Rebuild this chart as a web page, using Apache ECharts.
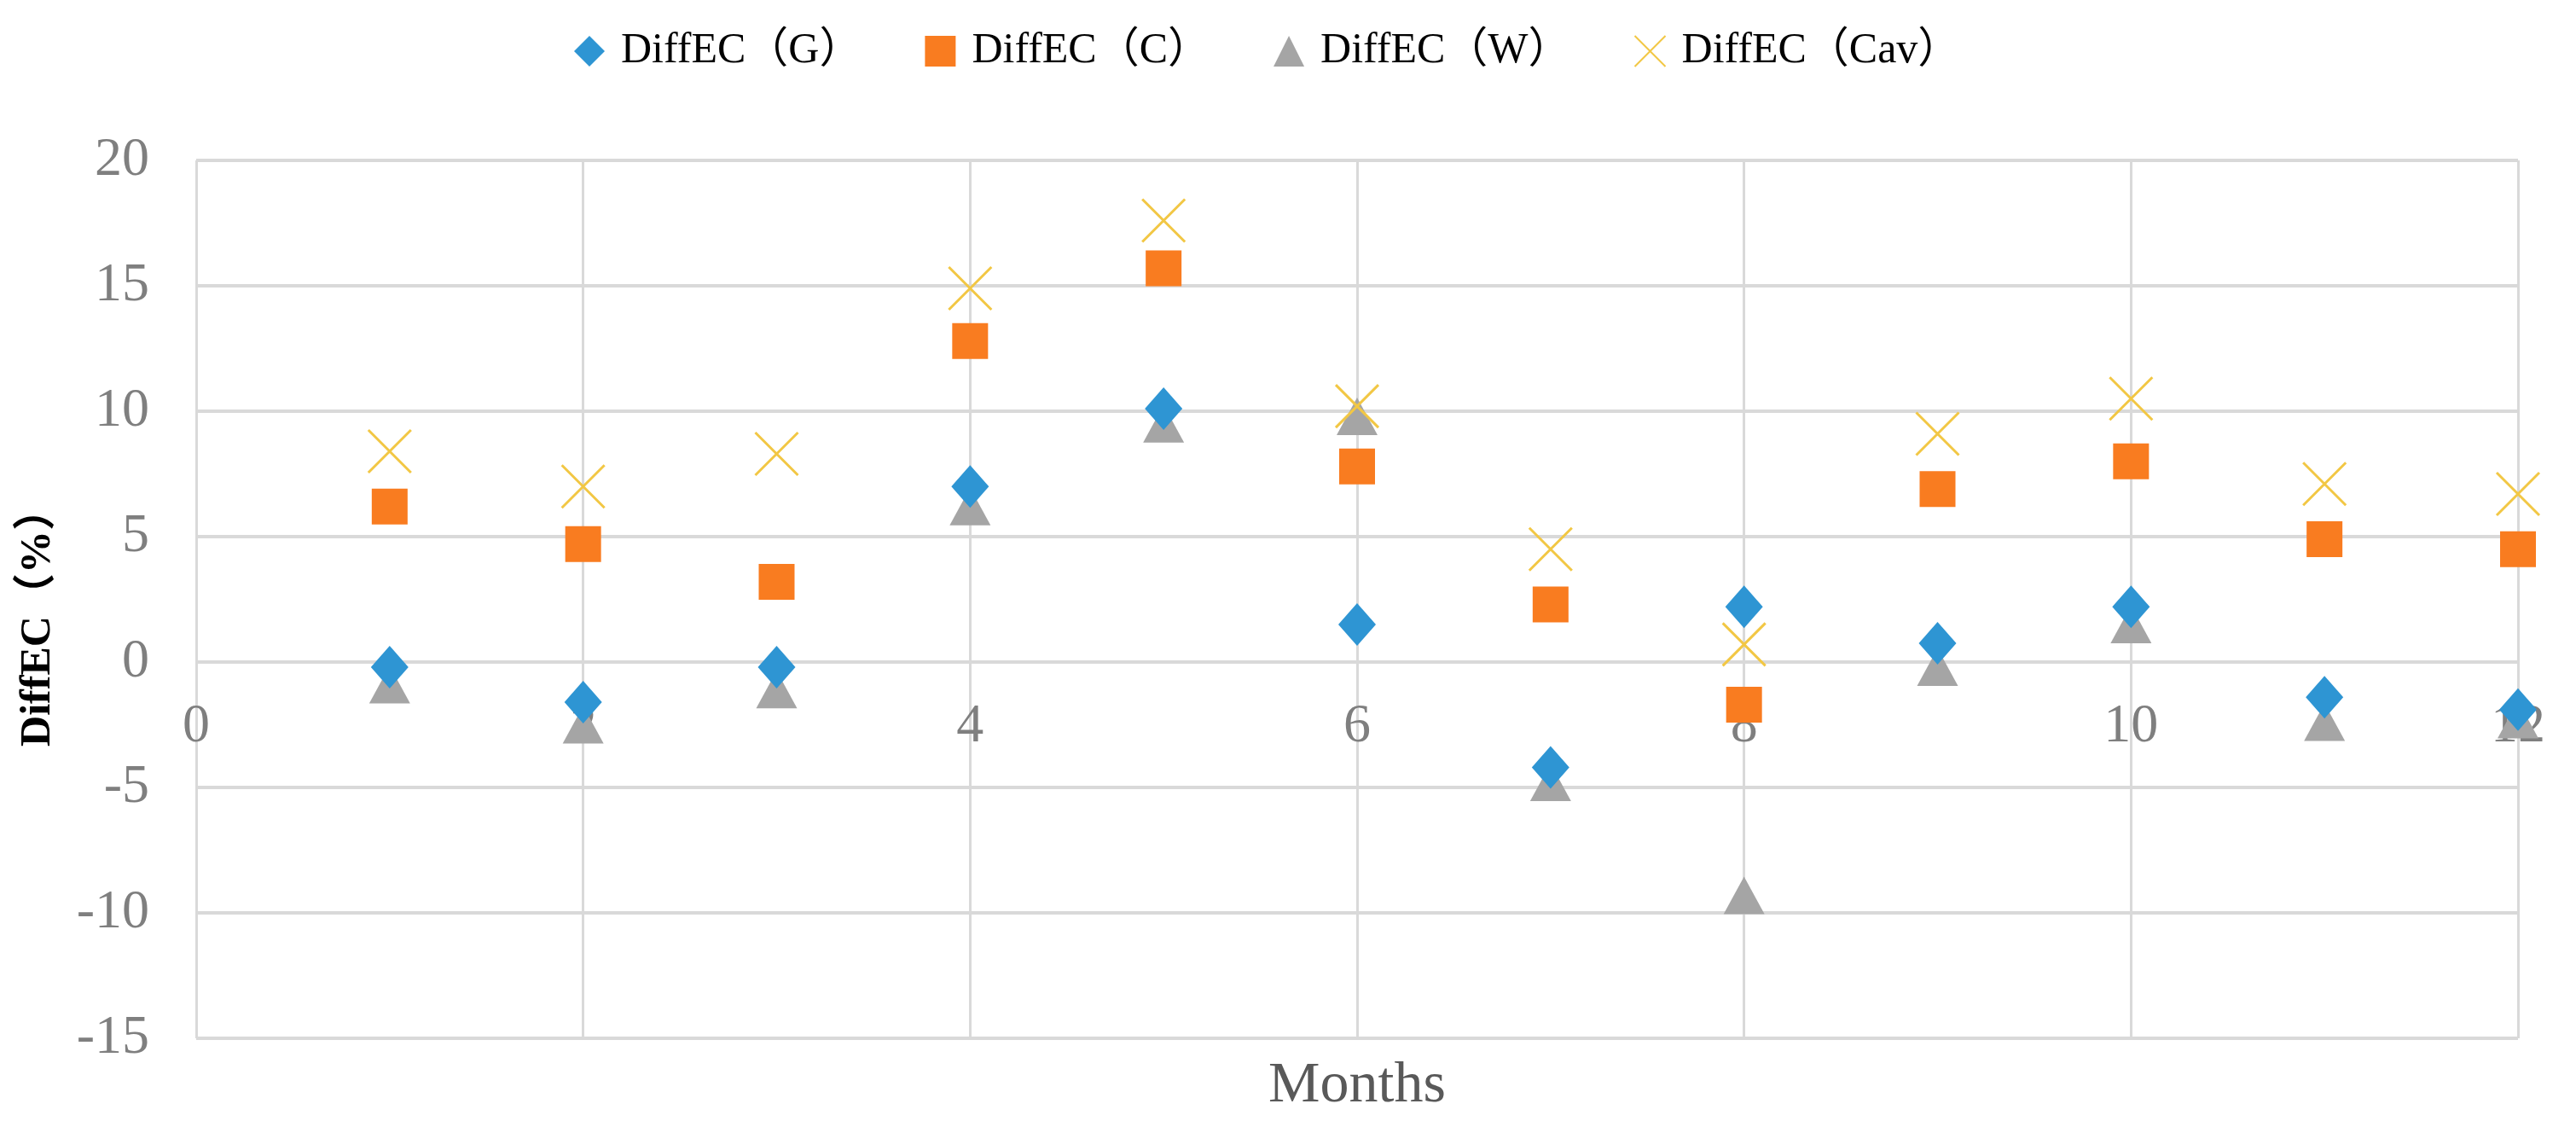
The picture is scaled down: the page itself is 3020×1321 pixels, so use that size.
<!DOCTYPE html>
<html>
<head>
<meta charset="utf-8">
<script src="https://cdn.jsdelivr.net/npm/echarts@6/dist/echarts.min.js"></script>
<style>
  html, body { margin: 0; padding: 0; background: #fff; }
  #chart { width: 3020px; height: 1321px; }
</style>
</head>
<body>
<div id="chart"></div>
<script>
// months on the x axis
var months = [1, 2, 3, 4, 5, 6, 7, 8, 9, 10, 11, 12];
var seriesNames = ['DiffEC（G）', 'DiffEC（C）', 'DiffEC（W）', 'DiffEC（Cav）'];
var diffG   = [-0.2, -1.6, -0.2, 7.0, 10.1, 1.5, -4.2, 2.2, 0.75, 2.2, -1.4, -1.9];
var diffC   = [6.2, 4.7, 3.2, 12.8, 15.7, 7.8, 2.3, -1.7, 6.9, 8.0, 4.9, 4.5];
var diffW   = [-0.9, -2.5, -1.1, 6.2, 9.5, 9.8, -4.8, -9.3, -0.2, 1.5, -2.4, -2.3];
var diffCav = [8.4, 7.0, 8.3, 14.9, 17.6, 10.2, 4.5, 0.7, 9.1, 10.5, 7.1, 6.7];

var serif = '"Liberation Serif", "Times New Roman", "Noto Sans CJK SC", serif';

function pairs(vals) {
  var out = [];
  for (var i = 0; i < months.length; i++) {
    out.push([months[i], vals[i]]);
  }
  return out;
}

var chart = echarts.init(document.getElementById('chart'), null, { renderer: 'canvas' });

// x axis sits on the zero line of y (-15..20), i.e. 15/35 of the plot height above the bottom
var gridTop = 188, gridBottom = 104;
var plotH = 1321 - gridTop - gridBottom;
var zeroLift = plotH * 15 / 35;

var option = {
  backgroundColor: '#ffffff',
  animation: false,
  legend: {
    data: seriesNames,
    left: 668,
    top: 30,
    itemWidth: 36,
    itemHeight: 36,
    itemGap: 74,
    textStyle: {
      fontFamily: serif,
      fontSize: 50,
      color: '#000',
      padding: [0, 0, 0, 14]
    }
  },
  grid: {
    left: 230,
    right: 68,
    top: gridTop,
    bottom: gridBottom,
    containLabel: false,
    outerBoundsMode: 'none'
  },
  xAxis: {
    type: 'value',
    min: 0,
    max: 12,
    interval: 2,
    offset: -zeroLift,
    name: 'Months',
    nameLocation: 'middle',
    nameGap: 463,
    nameTextStyle: { fontFamily: serif, fontSize: 68, color: '#595959' },
    axisLine: { show: false, onZero: false },
    axisTick: { show: false },
    axisLabel: { fontFamily: serif, fontSize: 64, color: '#7f7f7f', margin: 44 },
    splitLine: { show: true, lineStyle: { color: '#d9d9d9', width: 3 } }
  },
  yAxis: {
    type: 'value',
    min: -15,
    max: 20,
    interval: 5,
    name: 'DiffEC（%）',
    nameLocation: 'middle',
    nameGap: 160,
    nameRotate: 90,
    nameTextStyle: {
      fontFamily: serif,
      fontSize: 50,
      fontWeight: 'bold',
      color: '#000',
      padding: [0, 42, 0, 0]
    },
    axisLine: { show: false },
    axisTick: { show: false },
    axisLabel: { fontFamily: serif, fontSize: 64, color: '#7f7f7f', margin: 55 },
    splitLine: { show: true, lineStyle: { color: '#d9d9d9', width: 4 } }
  },
  series: [
    {
      name: seriesNames[0],
      type: 'scatter',
      data: pairs(diffG),
      symbol: 'diamond',
      symbolSize: [44, 50],
      z: 3,
      itemStyle: { color: '#2e95d3', opacity: 1 }
    },
    {
      name: seriesNames[1],
      type: 'scatter',
      data: pairs(diffC),
      symbol: 'rect',
      symbolSize: 42,
      z: 2,
      itemStyle: { color: '#f97c20', opacity: 1 }
    },
    {
      name: seriesNames[2],
      type: 'scatter',
      data: pairs(diffW),
      symbol: 'triangle',
      symbolSize: [48, 44],
      z: 2,
      itemStyle: { color: '#a5a5a5', opacity: 1 }
    },
    {
      name: seriesNames[3],
      type: 'scatter',
      data: pairs(diffCav),
      symbol: 'path://M0,0L10,10M10,0L0,10',
      symbolSize: 50,
      z: 4,
      itemStyle: { color: 'transparent', borderColor: '#f2c744', borderWidth: 3, opacity: 1 }
    }
  ]
};

chart.setOption(option);
</script>
</body>
</html>
